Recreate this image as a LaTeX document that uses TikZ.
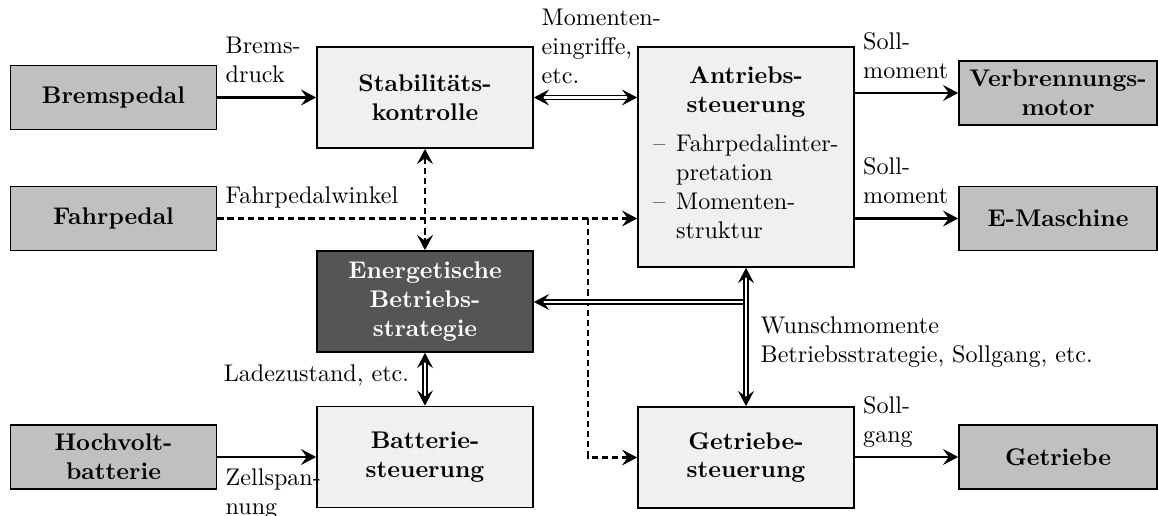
\documentclass[tikz,border=0pt]{standalone}
\usetikzlibrary{arrows.meta}
\definecolor{boxlight}{HTML}{F0F0F0}
\definecolor{boxgray}{HTML}{C0C0C0}
\definecolor{boxdark}{HTML}{555555}
% one drawing unit
\newcommand\pu{0.41494pt}
\begin{document}
\begin{tikzpicture}[
  x=\pu, y=-\pu,
  >={Stealth[length=6.3pt,width=6.6pt,inset=2.4pt]},
  blk/.style={draw, line width=0.7pt, align=center, font=\bfseries, inner sep=3pt},
  extbox/.style={blk, fill=boxgray, minimum width=206*\pu, minimum height=64*\pu},
  ctrl/.style={blk, fill=boxlight, minimum width=216*\pu, minimum height=101*\pu},
  flow/.style={line width=0.95pt, ->},
  sig/.style={line width=0.95pt, dash pattern=on 2.6pt off 1.6pt, ->},
  link/.style={double, double distance=1.2pt, line width=0.55pt},
  lblup/.style={pos=0, anchor=south west, align=left, inner sep=3pt, text depth=2.7pt},
  lbldown/.style={pos=0, anchor=north west, align=left, inner sep=3pt, yshift=-1.5pt},
]
\useasboundingbox (0,0) rectangle (1158,516);

% external components
\node[extbox] (brems) at (113.5,97.5) {Bremspedal};
\node[extbox] (fahr) at (113.5,218.5) {Fahrpedal};
\node[extbox] (hv) at (113.5,457) {Hochvolt-\\batterie};
\node[extbox, minimum width=198*\pu] (vm) at (1058,93) {Verbrennungs-\\motor};
\node[extbox, minimum width=198*\pu] (em) at (1058,218.5) {E-Maschine};
\node[extbox, minimum width=198*\pu] (gtr) at (1058,457) {Getriebe};

% control units
\node[ctrl] (stab) at (425,97.5) {Stabilitäts-\\kontrolle};
\node[ctrl, fill=boxdark, text=white] (ebs) at (425,301.5) {Energetische\\Betriebs-\\strategie};
\node[ctrl] (bat) at (425,457) {Batterie-\\steuerung};
\node[ctrl] (gst) at (746,457.5) {Getriebe-\\steuerung};
\node[ctrl, minimum height=220*\pu] (antr) at (746,157) {Antriebs-\\steuerung\\[4pt]\normalfont
  \begin{tabular}[t]{@{}l@{\hspace{0.45em}}l@{}}--&Fahrpedalinter-\\&pretation\\--&Momenten-\\&struktur\end{tabular}};

% signal flow
\draw[flow] (brems.east) -- node[lblup] {Brems-\\druck} (stab.west);
\draw[flow] (hv.east) -- node[lbldown] {Zellspan-\\nung} (bat.west);
\draw[flow] (antr.east |- vm.west) -- node[lblup] {Soll-\\moment} (vm.west);
\draw[flow] (antr.east |- em.west) -- node[lblup] {Soll-\\moment} (em.west);
\draw[flow] (gst.east |- gtr.west) -- node[lblup] {Soll-\\gang} (gtr.west);

% pedal angle
\coordinate (br) at (588,218.5);
\draw[sig] (fahr.east) -- node[lblup] {Fahrpedalwinkel} (fahr.east -| antr.west);
\draw[sig] (br) |- (gst.west);
\draw[sig, <->] (stab.south) -- (ebs.north);

% bus links
\coordinate (jn) at (746,302);
\draw[link, ->] (jn) -- (jn -| ebs.east);
\draw[link, <->] (stab.east) -- node[lblup] {Momenten-\\eingriffe,\\etc.} (stab.east -| antr.west);
\draw[link, <->] (antr.south) -- node[right, align=left, xshift=2.5pt, yshift=-2pt] {Wunschmomente\\Betriebsstrategie, Sollgang, etc.} (gst.north);
\draw[link, <->] (ebs.south) -- node[left, xshift=-3pt, yshift=1.5pt] {Ladezustand, etc.} (bat.north);
\end{tikzpicture}
\end{document}
